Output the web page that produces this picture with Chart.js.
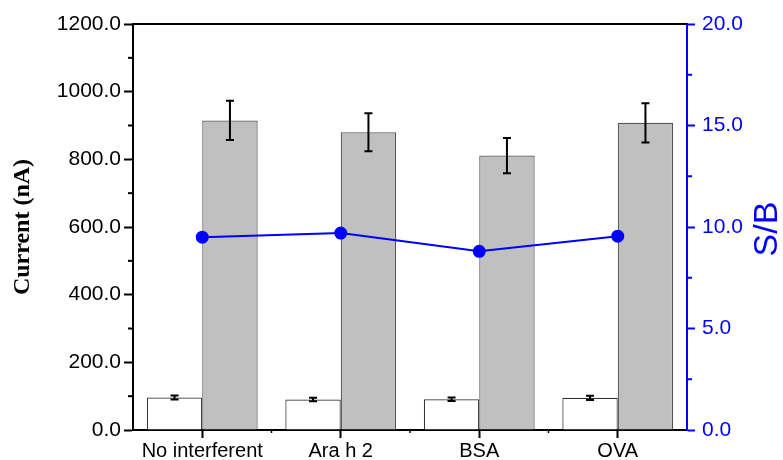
<!DOCTYPE html>
<html>
<head>
<meta charset="utf-8">
<script src="https://cdn.jsdelivr.net/npm/chart.js@4"></script>
<style>
  html, body { margin: 0; padding: 0; background: #fff; }
  #wrap { width: 783px; height: 460px; }
</style>
</head>
<body>
<div id="wrap"><canvas id="chart" width="783" height="460"></canvas></div>
<script>
// data
const categories = ['No interferent', 'Ara h 2', 'BSA', 'OVA'];
const blankCurrent = [96, 90, 91, 95];
const blankErr = [6, 5, 5, 6];
const signalCurrent = [915, 880, 811, 908];
const signalErr = [58, 56, 52, 58];
const sbRatio = [9.5, 9.7, 8.8, 9.55];

// dataset index -> error array
const errors = { 1: blankErr, 2: signalErr };

// error bars, frame, minor ticks and right title
const extras = {
  id: 'extras',
  afterDatasetsDraw(chart) {
    const ctx = chart.ctx;
    const y = chart.scales.y;
    ctx.save();
    ctx.strokeStyle = '#000';
    ctx.lineWidth = 2;
    [1, 2].forEach(di => {
      const meta = chart.getDatasetMeta(di);
      meta.data.forEach((bar, i) => {
        const v = chart.data.datasets[di].data[i];
        const e = errors[di][i];
        const top = y.getPixelForValue(v + e);
        const bot = y.getPixelForValue(v - e);
        ctx.beginPath();
        ctx.moveTo(bar.x, top); ctx.lineTo(bar.x, bot);
        ctx.moveTo(bar.x - 4, top); ctx.lineTo(bar.x + 4, top);
        ctx.moveTo(bar.x - 4, bot); ctx.lineTo(bar.x + 4, bot);
        ctx.stroke();
      });
    });
    ctx.restore();
  },
  afterDraw(chart) {
    const ctx = chart.ctx;
    const a = chart.chartArea;
    const y = chart.scales.y, y1 = chart.scales.y1, x = chart.scales.x;
    ctx.save();
    // top frame line
    ctx.strokeStyle = '#000';
    ctx.lineWidth = 2;
    ctx.beginPath();
    ctx.moveTo(a.left - 1, a.top); ctx.lineTo(a.right, a.top);
    ctx.stroke();
    // minor ticks left
    for (let v = 100; v < 1200; v += 200) {
      const p = y.getPixelForValue(v);
      ctx.beginPath(); ctx.moveTo(a.left - 5, p); ctx.lineTo(a.left, p); ctx.stroke();
    }
    // minor ticks bottom at category boundaries
    ctx.lineWidth = 1.5;
    for (let i = 1; i < categories.length; i++) {
      const p = (x.getPixelForValue(i - 1) + x.getPixelForValue(i)) / 2;
      ctx.beginPath(); ctx.moveTo(p, a.bottom); ctx.lineTo(p, a.bottom + 3); ctx.stroke();
    }
    // minor ticks right
    ctx.strokeStyle = '#0000ff';
    ctx.lineWidth = 2;
    for (let v = 2.5; v < 20; v += 5) {
      const p = y1.getPixelForValue(v);
      ctx.beginPath(); ctx.moveTo(a.right, p); ctx.lineTo(a.right + 5, p); ctx.stroke();
    }
    // right axis title, reading bottom to top
    ctx.fillStyle = '#0000ff';
    ctx.font = '34px "Liberation Sans", Arial, sans-serif';
    ctx.textAlign = 'center';
    ctx.textBaseline = 'middle';
    ctx.translate(768, (a.top + a.bottom) / 2 + 2);
    ctx.rotate(-Math.PI / 2);
    ctx.fillText('S/B', 0, 0);
    ctx.restore();
  }
};

const tickFont = { family: '"Liberation Sans", Arial, sans-serif', size: 21 };

new Chart(document.getElementById('chart'), {
  type: 'bar',
  data: {
    labels: categories,
    datasets: [
      {
        type: 'line',
        data: sbRatio,
        yAxisID: 'y1',
        borderColor: '#0000ff',
        backgroundColor: '#0000ff',
        borderWidth: 2,
        pointRadius: 5.5,
        order: 0
      },
      {
        data: blankCurrent,
        backgroundColor: '#ffffff',
        borderColor: '#333333',
        borderWidth: 1.2,
        categoryPercentage: 0.8,
        barPercentage: 1.0,
        order: 1
      },
      {
        data: signalCurrent,
        backgroundColor: '#c0c0c0',
        borderColor: '#555555',
        borderWidth: 1.2,
        categoryPercentage: 0.8,
        barPercentage: 1.0,
        order: 1
      }
    ]
  },
  options: {
    responsive: false,
    animation: false,
    layout: { padding: { top: 24, left: 0, right: 0, bottom: 0 } },
    plugins: { legend: { display: false }, tooltip: { enabled: false } },
    scales: {
      x: {
        grid: { offset: false, drawOnChartArea: false, tickLength: 8, tickColor: '#000', tickWidth: 2 },
        border: { color: '#000', width: 2 },
        ticks: { color: '#000', font: { family: tickFont.family, size: 20 }, padding: 1, maxRotation: 0, autoSkip: false },
        afterFit(s) { s.height = 30; }
      },
      y: {
        position: 'left',
        min: 0,
        max: 1200,
        ticks: {
          stepSize: 200, color: '#000', font: tickFont, padding: 3,
          callback: v => v.toFixed(1)
        },
        grid: { drawOnChartArea: false, tickLength: 9, tickColor: '#000', tickWidth: 2 },
        border: { color: '#000', width: 2 },
        title: {
          display: true,
          text: 'Current (nA)',
          color: '#000',
          font: { family: '"Liberation Serif", "Times New Roman", serif', size: 24, weight: 'bold', lineHeight: 1.2 },
          padding: { top: 8, bottom: 0 }
        },
        afterFit(s) { s.width = 133; }
      },
      y1: {
        position: 'right',
        min: 0,
        max: 20,
        ticks: {
          stepSize: 5, color: '#0000ff', font: tickFont, padding: 7,
          callback: v => v.toFixed(1)
        },
        grid: { drawOnChartArea: false, tickLength: 8, tickColor: '#0000ff', tickWidth: 2 },
        border: { color: '#0000ff', width: 2 },
        afterFit(s) { s.width = 96; }
      }
    }
  },
  plugins: [extras]
});
</script>
</body>
</html>
